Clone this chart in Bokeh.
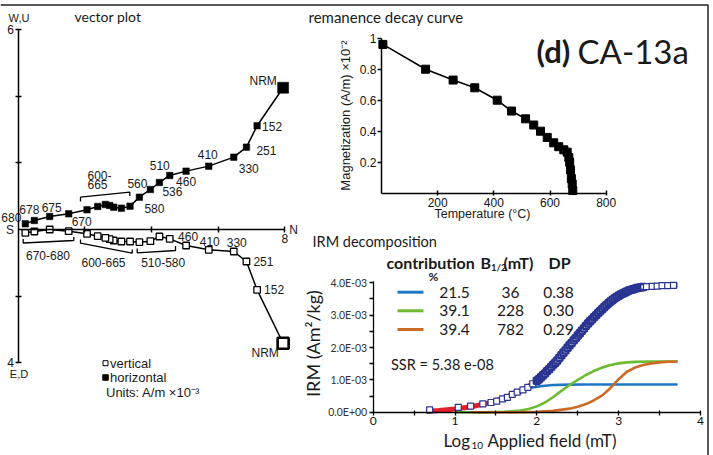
import numpy as np
from bokeh.plotting import figure
from bokeh.models import Range1d, LinearAxis, FixedTicker, ColumnDataSource
from bokeh.core.properties import value
from bokeh.embed import file_html
from bokeh.resources import INLINE

W, H = 713, 455

# ---------------- data ----------------
# vector (Zijderveld) plot, units A/m x 1e-3
vec_steps = ["NRM", "152", "251", "330", "410", "460", "510", "536", "560", "580",
             "600", "620", "630", "640", "650", "660", "665", "670", "675", "678", "680"]
vec_north = [7.95, 7.17, 6.85, 6.47, 5.72, 5.04, 4.55, 4.24, 3.97, 3.64,
             3.36, 3.10, 2.87, 2.75, 2.62, 2.39, 2.07, 1.52, 0.95, 0.49, 0.22]
vec_west = [4.25, 3.11, 2.47, 2.17, 1.90, 1.75, 1.62, 1.41, 1.20, 0.97,
            0.70, 0.64, 0.67, 0.72, 0.75, 0.69, 0.59, 0.47, 0.39, 0.27, 0.17]
vec_up = [-3.41, -1.81, -0.96, -0.66, -0.61, -0.48, -0.28, -0.21, -0.35, -0.38,
          -0.36, -0.36, -0.33, -0.29, -0.25, -0.20, -0.13, -0.05, 0.00, -0.06, -0.10]

# remanence decay curve
decay_temp = [5, 157, 255, 332, 412, 463, 513, 542, 566, 590, 613, 631, 649, 661,
              667, 670, 673, 676, 679, 681]
decay_mag = [0.96, 0.80, 0.73, 0.68, 0.60, 0.53, 0.48, 0.44, 0.40, 0.36, 0.325, 0.30,
             0.28, 0.265, 0.23, 0.20, 0.15, 0.095, 0.06, 0.017]

# IRM acquisition (x: log10 field mT, y: IRM in 1e-3 Am2/kg)
irm_meas_log = [0.69, 1.04, 1.19, 1.34, 1.44, 1.51, 1.58, 1.64, 1.70, 1.76, 1.83, 1.89, 1.95,
                2.000, 2.025, 2.050, 2.075, 2.100, 2.125, 2.150, 2.175, 2.200, 2.225,
                2.250, 2.275, 2.300, 2.325, 2.350, 2.375, 2.400, 2.425, 2.450, 2.475,
                2.500, 2.525, 2.550, 2.575, 2.600, 2.625, 2.650, 2.675, 2.700, 2.725,
                2.750, 2.775, 2.800, 2.825, 2.850, 2.875, 2.900, 2.925, 2.950, 2.975,
                3.000, 3.025, 3.050, 3.075, 3.100, 3.125, 3.150, 3.175, 3.200, 3.225,
                3.250, 3.275, 3.300, 3.34, 3.41, 3.47, 3.53, 3.60, 3.67]
irm_meas_e3 = [0.07, 0.15, 0.19, 0.26, 0.30, 0.34, 0.41, 0.46, 0.55, 0.62, 0.69, 0.77, 0.88,
               0.97, 1.02, 1.08, 1.14, 1.20, 1.27, 1.33, 1.40, 1.47, 1.53,
               1.60, 1.68, 1.76, 1.84, 1.91, 1.99, 2.07, 2.14, 2.22, 2.29,
               2.37, 2.44, 2.52, 2.59, 2.67, 2.74, 2.81, 2.87, 2.94, 3.00,
               3.07, 3.13, 3.19, 3.25, 3.31, 3.37, 3.42, 3.47, 3.52, 3.56,
               3.60, 3.64, 3.67, 3.70, 3.73, 3.76, 3.78, 3.80, 3.82, 3.84,
               3.85, 3.86, 3.87, 3.88, 3.89, 3.90, 3.91, 3.91, 3.92]
irm_fit_log = [0.65, 0.8, 1.0, 1.2, 1.4, 1.6, 1.8, 2.0, 2.2, 2.4, 2.6, 2.8, 3.0, 3.2, 3.4, 3.6, 3.72]
irm_fit_e3 = [0.03, 0.05, 0.10, 0.17, 0.28, 0.43, 0.65, 0.96, 1.46, 2.05, 2.66, 3.19, 3.58,
              3.81, 3.89, 3.92, 3.93]
comp1_log = [0.7, 1.0, 1.2, 1.4, 1.5, 1.6, 1.7, 1.8, 1.9, 2.0, 2.1, 2.2, 2.4, 2.6, 3.0, 3.72]
comp1_e3 = [0.03, 0.09, 0.16, 0.27, 0.35, 0.44, 0.55, 0.66, 0.74, 0.79, 0.82, 0.84, 0.853,
            0.856, 0.856, 0.856]
comp2_log = [1.0, 1.4, 1.6, 1.8, 1.9, 2.0, 2.1, 2.2, 2.3, 2.4, 2.5, 2.6, 2.7, 2.8, 2.9, 3.0,
             3.1, 3.2, 3.4, 3.72]
comp2_e3 = [0.0, 0.003, 0.012, 0.05, 0.10, 0.18, 0.30, 0.47, 0.66, 0.84, 1.00, 1.15, 1.28,
            1.38, 1.46, 1.51, 1.54, 1.555, 1.565, 1.567]
comp3_log = [1.2, 1.6, 1.8, 2.0, 2.2, 2.4, 2.5, 2.6, 2.7, 2.8, 2.9, 3.0, 3.1, 3.2, 3.3, 3.4,
             3.5, 3.6, 3.72]
comp3_e3 = [0.0, 0.0, 0.002, 0.01, 0.04, 0.11, 0.17, 0.25, 0.37, 0.52, 0.75, 1.02, 1.25,
            1.38, 1.46, 1.51, 1.54, 1.56, 1.567]

comp_contrib = [21.5, 39.1, 39.4]
comp_bhalf = [36, 228, 782]
comp_dp = [0.38, 0.30, 0.29]
ssr_text = "SSR = 5.38 e-08"

# ---------------- styles ----------------
comp_colors = ["#1f78c4", "#6cbb32", "#cd6a25"]
ARIAL = "Liberation Sans"
MYR = "Lato"


def xr(v0, p0, v1, p1):
    s = (v1 - v0) / (p1 - p0)
    return Range1d(v0 - p0 * s, v0 + (W - p0) * s)


def yr(v0, p0, v1, p1):
    s = (v1 - v0) / (p1 - p0)
    return Range1d(v0 + (H - p0) * s, v0 - p0 * s)


p = figure(width=W, height=H, x_range=Range1d(0, W), y_range=Range1d(H, 0),
           output_backend="svg", toolbar_location=None,
           x_axis_location=None, y_axis_location=None, min_border=0,
           outline_line_color=None, background_fill_color="white",
           border_fill_color="white")
for g in p.grid:
    g.visible = False

VS = 33.35
p.extra_x_ranges = {"vx": xr(0, 17.5, 8, 17.5 + 8 * VS),
                    "dx": xr(0, 381, 800, 605.7),
                    "ix": xr(0, 372.7, 4, 700)}
p.extra_y_ranges = {"vy": yr(0, 229, 6, 229 - 6 * VS),
                    "dy": yr(0, 192.7, 1, 37.7),
                    "iy": yr(0, 411.7, 4, 282.3)}


def add_axis(side, xn, yn, bounds, ticks, overrides=None, minor=None, tin=0, tout=4,
             font=ARIAL, size="11px", color="#111111", standoff=2, lw=1.5):
    ax = LinearAxis(x_range_name=xn, y_range_name=yn, fixed_location=0, bounds=bounds,
                    ticker=FixedTicker(ticks=ticks, minor_ticks=minor or []),
                    major_tick_in=tin, major_tick_out=tout,
                    minor_tick_in=tin, minor_tick_out=tout,
                    axis_line_width=lw, major_tick_line_width=lw, minor_tick_line_width=lw,
                    axis_line_color="black", major_tick_line_color="black",
                    minor_tick_line_color="black" if minor else None,
                    major_label_text_font=font, major_label_text_font_size=size,
                    major_label_text_color=color, major_label_standoff=standoff)
    if overrides:
        ax.major_label_overrides = overrides
    p.add_layout(ax, side)
    return ax


def label(x, y, s, size, font=ARIAL, align="left", baseline="middle", style="normal",
          color="#1a1a1a", angle=0.0):
    p.text(x=[x], y=[y], text=[s], text_font=value(font), text_font_size=f"{size}px",
           text_align=align, text_baseline=baseline, text_font_style=style,
           text_color=color, angle=angle)


# frame lines of the composite figure
p.line(x=[0, 707.5, 707.5], y=[4.5, 4.5, H], line_color="#222222", line_width=1.5)

# ================= vector plot =================
add_axis("below", "vx", "vy", (0, 8), [2, 4, 6, 8], {2: "", 4: "", 6: "", 8: "8"},
         tin=3, tout=3, size="12px", standoff=1)
add_axis("left", "vx", "vy", (-4, 6), [-4, -2, 2, 4, 6],
         {-4: "4", -2: "", 2: "", 4: "", 6: "6"}, tin=3, tout=3, size="12px", standoff=1)

vsrc = ColumnDataSource(dict(n=vec_north, w=vec_west, u=vec_up, s=vec_steps,
                             sz=[11 if s == "NRM" else 6.5 for s in vec_steps],
                             lw=[2.6 if s == "NRM" else 1.3 for s in vec_steps]))
p.line("n", "w", source=vsrc, x_range_name="vx", y_range_name="vy", line_color="black",
       line_width=1.5)
p.line("n", "u", source=vsrc, x_range_name="vx", y_range_name="vy", line_color="black",
       line_width=1.5)
p.scatter("n", "w", source=vsrc, x_range_name="vx", y_range_name="vy", marker="square",
          size="sz", fill_color="black", line_color="black", line_width=0.5)
p.scatter("n", "u", source=vsrc, x_range_name="vx", y_range_name="vy", marker="square",
          size="sz", fill_color="white", line_color="black", line_width="lw")

h_off = {"NRM": (-20, -7), "152": (15, 1), "251": (20, 3), "330": (15, 11), "410": (-1, -12),
         "460": (0, 10), "510": (-10, -10), "536": (13, 9), "560": (-13, -6), "580": (15, 11),
         "670": (13, 8), "675": (2, -9), "678": (-5, -11), "680": (-14, -6)}
v_off = {"NRM": (-18, 10), "152": (17, 0), "251": (17, 0), "330": (3, -9), "410": (1, -8),
         "460": (2, -9)}
for off, comp in ((h_off, vec_west), (v_off, vec_up)):
    idx = [i for i, s in enumerate(vec_steps) if s in off]
    src = ColumnDataSource(dict(x=[vec_north[i] for i in idx], y=[comp[i] for i in idx],
                                t=[vec_steps[i] for i in idx],
                                dx=[off[vec_steps[i]][0] for i in idx],
                                dy=[off[vec_steps[i]][1] for i in idx]))
    p.text("x", "y", text="t", source=src, x_range_name="vx", y_range_name="vy",
           x_offset="dx", y_offset="dy", text_align="center", text_baseline="middle",
           text_font=value(ARIAL), text_font_size="12px", text_color="#1a1a1a")

# brackets for grouped steps
brackets = [([80, 80, 129.3, 129.3], [201, 196.7, 191.7, 195.5]),
            ([22.7, 22.7, 73.3, 73.3], [238.5, 242.5, 240, 236.5]),
            ([80, 80, 131.7, 131.7], [239, 242.7, 252.7, 249]),
            ([136.7, 136.7, 175, 175], [248, 252.3, 250, 245.5])]
for bx, by in brackets:
    p.line(bx, by, line_color="black", line_width=1.3)
label(87, 174.5, "600-", 12)
label(87, 184, "665", 12)
label(47.5, 255, "670-680", 12, align="center")
label(103, 261.5, "600-665", 12, align="center")
label(162.7, 261.5, "510-580", 12, align="center")
label(9.5, 229.5, "S", 12, align="center")
label(293, 229, "N", 12, align="center")
label(18.5, 17, "W,U", 11, align="center")
label(18.5, 373.5, "E,D", 11, align="center")
label(74, 16, "vector plot", 14, font=MYR)
# legend
p.scatter([105], [362.7], marker="square", size=5, fill_color="white", line_color="black",
          line_width=1)
p.scatter([105], [377], marker="square", size=5.5, fill_color="black", line_color="black")
label(109.5, 362.5, "vertical", 13)
label(109.5, 377, "horizontal", 13)
label(105.5, 392, "Units: A/m ×10⁻³", 13)

# ================= remanence decay curve =================
add_axis("below", "dx", "dy", (0, 800), [200, 400, 600, 800], tin=3, tout=2, size="12px",
         standoff=3)
add_axis("left", "dx", "dy", (0, 1.0), [0.2, 0.4, 0.6, 0.8, 1.0], {1: "1"}, tin=0, tout=4,
         size="12px", standoff=1)
p.line(decay_temp, decay_mag, x_range_name="dx", y_range_name="dy", line_color="black",
       line_width=1.6)
p.scatter(decay_temp, decay_mag, x_range_name="dx", y_range_name="dy", marker="square",
          size=8, fill_color="black", line_color="black")
label(308, 16, "remanence decay curve", 15, font=MYR)
label(345, 115, "Magnetization (A/m) ×10⁻²", 13, align="center", angle=np.pi / 2)
label(482, 213, "Temperature (°C)", 12.5, align="center")
label(536, 50, "(d)", 31, font=MYR, style="bold", baseline="alphabetic")
label(577, 50, "CA-13a", 33, font=MYR, baseline="alphabetic")

# ================= IRM decomposition =================
irm_lbl = {0: "0.0E+00", 1: "1.0E-03", 2: "2.0E-03", 3: "3.0E-03", 4: "4.0E-03"}
add_axis("below", "ix", "iy", (0, 4), [0, 1, 2, 3, 4], minor=[0.5, 1.5, 2.5, 3.5],
         tin=2, tout=3, font=MYR, size="12px", standoff=2, lw=1.3)
add_axis("left", "ix", "iy", (0, 4.05), [0, 1, 2, 3, 4], irm_lbl,
         minor=[0.5, 1.5, 2.5, 3.5], tin=0, tout=4, font=MYR, size="10.5px",
         color="#333333", standoff=2, lw=1.3)
for lx, ly, c in ((comp1_log, comp1_e3, comp_colors[0]), (comp2_log, comp2_e3, comp_colors[1]),
                  (comp3_log, comp3_e3, comp_colors[2])):
    p.line(lx, ly, x_range_name="ix", y_range_name="iy", line_color=c, line_width=2.6)
p.line(irm_fit_log, irm_fit_e3, x_range_name="ix", y_range_name="iy", line_color="#e3212d",
       line_width=5)
msrc = ColumnDataSource(dict(x=irm_meas_log, y=irm_meas_e3,
                             lw=[2.4 if 1.99 < v < 3.31 else 1.2 for v in irm_meas_log]))
p.scatter("x", "y", source=msrc, x_range_name="ix", y_range_name="iy", marker="square",
          size=6, fill_color="white", line_color="#2a3592", line_width="lw")

label(312, 241, "IRM decomposition", 14.5, font=MYR)
label(312.7, 343, "IRM (Am²/kg)", 18, font=MYR, align="center", angle=np.pi / 2)
label(443, 440, "Log", 17, font=MYR)
label(471, 445, "10", 10, font=MYR)
label(487, 440, "Applied field (mT)", 17, font=MYR)
# legend table
label(386, 262, "contribution", 16, font=MYR, style="bold")
label(480, 262, "B", 16, font=MYR, style="bold")
label(490.5, 267, "1/2", 9.5, font=MYR, style="bold")
label(503, 262, "(mT)", 16, font=MYR, style="bold")
label(548, 262, "DP", 16, font=MYR, style="bold")
label(433, 275.5, "%", 12, font=MYR, style="bold", align="center")
row_y = [291.7, 310.3, 329]
for i in range(3):
    p.line([397, 423], [row_y[i], row_y[i]], line_color=comp_colors[i], line_width=3)
    label(454, row_y[i], f"{comp_contrib[i]:.1f}", 15.5, font=MYR, align="center")
    label(510, row_y[i], f"{comp_bhalf[i]}", 15.5, font=MYR, align="center")
    label(558, row_y[i], f"{comp_dp[i]:.2f}", 15.5, font=MYR, align="center")
label(390.5, 363.5, ssr_text, 14.5, font=MYR)

open("out.html", "w").write(file_html(p, INLINE))
